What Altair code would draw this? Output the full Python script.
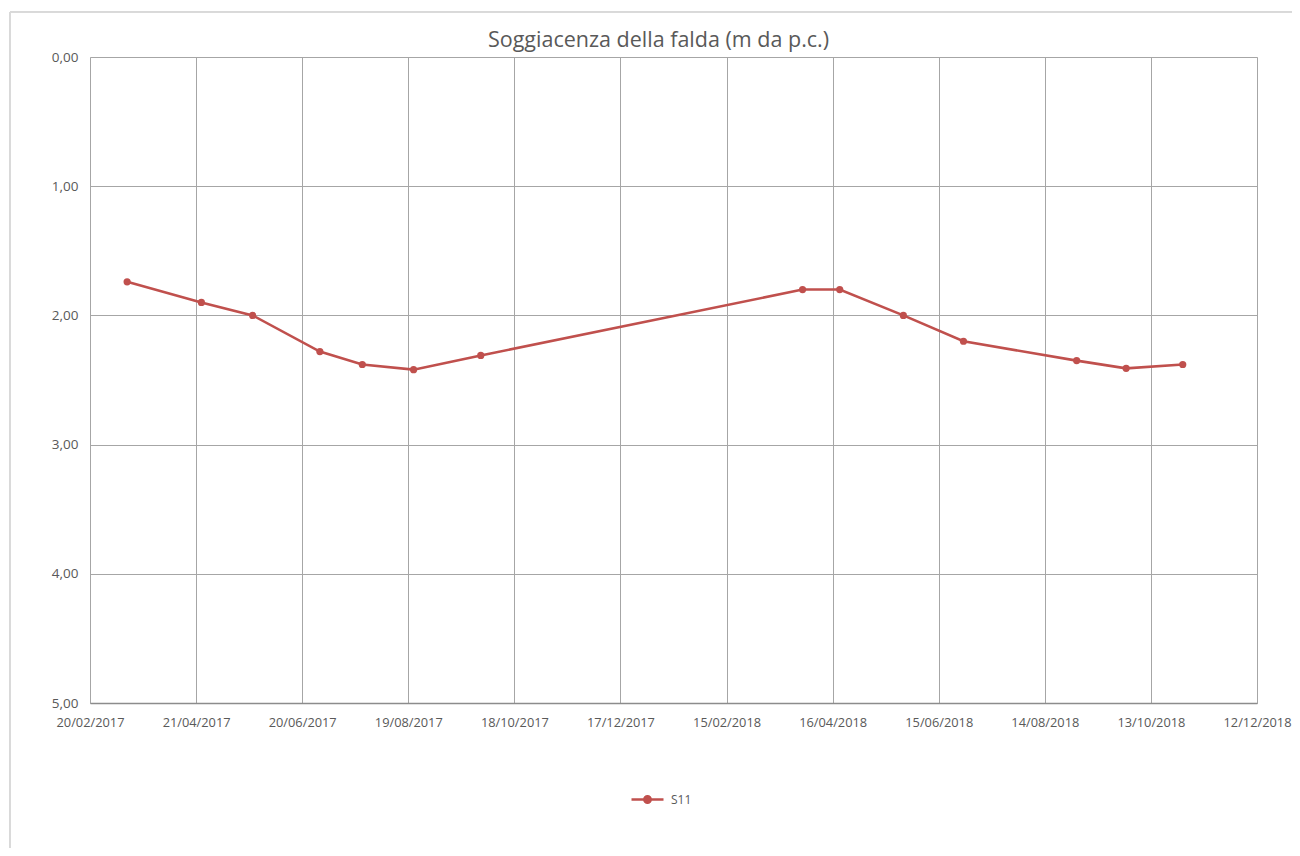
import altair as alt
import pandas as pd

dates = ["2017-03-13", "2017-04-24", "2017-05-23", "2017-06-30", "2017-07-24",
         "2017-08-22", "2017-09-29", "2018-03-30", "2018-04-20", "2018-05-26",
         "2018-06-29", "2018-09-01", "2018-09-29", "2018-10-31"]
depth = [1.74, 1.90, 2.00, 2.28, 2.38, 2.42, 2.31, 1.80, 1.80, 2.00, 2.20, 2.35, 2.41, 2.38]
series = ["S11"] * len(dates)

tick_dates = ["2017-02-20", "2017-04-21", "2017-06-20", "2017-08-19", "2017-10-18",
              "2017-12-17", "2018-02-15", "2018-04-16", "2018-06-15", "2018-08-14",
              "2018-10-13", "2018-12-12"]
y_ticks = [0, 1, 2, 3, 4, 5]

def ms(d):
    return int(pd.Timestamp(d, tz="UTC").value // 10**6)

df = pd.DataFrame({"t": [ms(d) for d in dates], "depth": depth, "serie": series})
tick_ms = [ms(d) for d in tick_dates]

RED = "#C0504D"
GRAY_TXT = "#595959"

x_enc = alt.X("t:T", scale=alt.Scale(type="utc", domain=[tick_ms[0], tick_ms[-1]], nice=False),
              axis=alt.Axis(values=tick_ms, title=None,
                            labelExpr="utcFormat(datum.value, '%d/%m/%Y')",
                            labelColor=GRAY_TXT, labelFontSize=12.8, labelFont="Open Sans",
                            labelPadding=13, labelFlush=False, labelOverlap=False,
                            ticks=False, domainColor="#8C8C8C",
                            gridColor="#A6A6A6", gridWidth=1, domainWidth=1.3))
y_enc = alt.Y("depth:Q", scale=alt.Scale(domain=[0, 5], reverse=True, nice=False, zero=False),
              axis=alt.Axis(values=y_ticks, title=None,
                            labelExpr="replace(format(datum.value, '.2f'), '.', ',')",
                            labelColor=GRAY_TXT, labelFontSize=13.5, labelFont="Open Sans",
                            labelPadding=12, ticks=False, domain=False,
                            gridColor="#A6A6A6", gridWidth=1))

legend_path = "M-1,0H1M-0.2,0a0.2,0.2 0 1,0 0.4,0a0.2,0.2 0 1,0 -0.4,0Z"

color_enc = alt.Color("serie:N", scale=alt.Scale(domain=["S11"], range=[RED]),
                      legend=alt.Legend(title=None, orient="none", legendX=540, legendY=725,
                                        symbolType=legend_path, symbolSize=1024,
                                        symbolStrokeWidth=2.5, symbolFillColor=RED,
                                        labelColor=GRAY_TXT, labelFontSize=12,
                                        labelFont="Open Sans", labelOffset=6))

base = alt.Chart(df)
line = base.mark_line(strokeWidth=2.6).encode(x=x_enc, y=y_enc, color=color_enc)
pts = base.mark_point(filled=True, size=52, opacity=1).encode(
    x="t:T", y="depth:Q", color=alt.Color("serie:N", legend=None))

border_top = alt.Chart(df).mark_rule(color="#D9D9D9", strokeWidth=1).encode(
    x=alt.value(-80), x2=alt.value(1220), y=alt.value(-45))
border_left = alt.Chart(df).mark_rule(color="#D9D9D9", strokeWidth=1).encode(
    x=alt.value(-80), y=alt.value(-45), y2=alt.value(800))

chart = alt.layer(border_top, border_left, line, pts).properties(
    width=1167, height=646,
    title=alt.TitleParams("Soggiacenza della falda (m da p.c.)", fontSize=21.5,
                          font="Open Sans", fontWeight="normal", color=GRAY_TXT,
                          anchor="middle", frame="group", dx=-15, offset=0, dy=40),
    autosize=alt.AutoSizeParams(type="none"),
    padding={"left": 82, "top": 49, "right": 35, "bottom": 145},
).configure_view(stroke=None).configure(background="white")

chart.save("out.html", embed_options={"renderer": "svg", "actions": False})
